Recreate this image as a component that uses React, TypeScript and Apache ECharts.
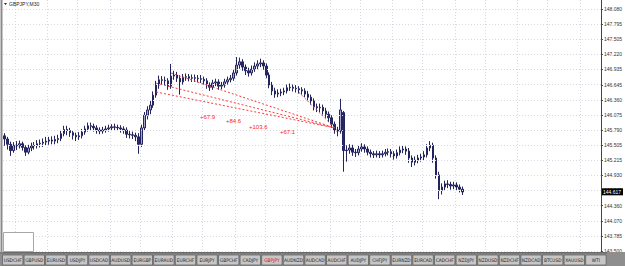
import React, { useEffect, useRef } from "react";
import * as echarts from "echarts";

// price axis labels (right side)
const yTickLabels = ["148.080","147.795","147.505","147.220","146.935","146.645","146.360","146.075","145.790","145.505","145.215","144.930","144.645","144.360","144.070","143.785","143.500"];

// M30 bars: [open, close, low, high]
const bars: number[][] = [
  [145.68,145.62,145.49,145.73],[145.62,145.52,145.42,145.66],[145.52,145.40,145.30,145.57],[145.40,145.50,145.36,145.56],
  [145.50,145.49,145.41,145.58],[145.49,145.53,145.44,145.59],[145.53,145.46,145.40,145.57],[145.46,145.37,145.30,145.50],
  [145.37,145.45,145.33,145.51],[145.45,145.49,145.39,145.55],[145.49,145.50,145.42,145.56],[145.50,145.53,145.44,145.60],
  [145.53,145.54,145.46,145.61],[145.54,145.56,145.47,145.63],[145.56,145.58,145.49,145.66],[145.58,145.60,145.51,145.66],
  [145.60,145.58,145.52,145.67],[145.58,145.61,145.52,145.68],[145.61,145.63,145.54,145.70],[145.63,145.72,145.58,145.79],
  [145.72,145.80,145.67,145.87],[145.80,145.78,145.69,145.87],[145.78,145.74,145.66,145.83],[145.74,145.69,145.61,145.78],
  [145.69,145.66,145.58,145.74],[145.66,145.68,145.60,145.75],[145.68,145.75,145.63,145.81],[145.75,145.81,145.70,145.87],
  [145.81,145.87,145.76,145.93],[145.87,145.86,145.79,145.93],[145.86,145.83,145.76,145.91],[145.83,145.79,145.72,145.88],
  [145.79,145.77,145.71,145.84],[145.77,145.79,145.72,145.85],[145.79,145.81,145.74,145.87],[145.81,145.83,145.76,145.89],
  [145.83,145.85,145.78,145.90],[145.85,145.84,145.78,145.91],[145.84,145.83,145.77,145.89],[145.83,145.81,145.74,145.88],
  [145.81,145.79,145.72,145.86],[145.79,145.71,145.64,145.84],[145.71,145.70,145.63,145.77],[145.70,145.69,145.62,145.76],
  [145.69,145.66,145.58,145.74],[145.66,145.52,145.34,145.73],[145.52,145.83,145.47,145.89],[145.83,146.07,145.77,146.13],
  [146.07,146.17,145.99,146.24],[146.17,146.26,146.09,146.34],[146.26,146.45,146.21,146.52],[146.45,146.64,146.40,146.72],
  [146.64,146.74,146.57,146.82],[146.74,146.73,146.65,146.81],[146.73,146.72,146.64,146.80],[146.72,146.62,146.55,146.77],
  [146.62,146.81,146.57,147.04],[146.81,146.83,146.74,146.91],[146.83,146.77,146.70,146.89],[146.77,146.70,146.46,146.83],
  [146.70,146.79,146.65,146.85],[146.79,146.80,146.72,146.86],[146.80,146.77,146.71,146.85],[146.77,146.78,146.70,146.84],
  [146.78,146.77,146.70,146.84],[146.77,146.76,146.69,146.83],[146.76,146.75,146.68,146.83],[146.75,146.72,146.65,146.80],
  [146.72,146.64,146.57,146.77],[146.64,146.60,146.53,146.69],[146.60,146.68,146.55,146.74],[146.68,146.70,146.62,146.76],
  [146.70,146.62,146.55,146.75],[146.62,146.64,146.56,146.70],[146.64,146.70,146.59,146.76],[146.70,146.74,146.65,146.80],
  [146.74,146.77,146.69,146.83],[146.77,146.87,146.72,146.93],[146.87,147.02,146.82,147.17],[147.02,147.08,146.95,147.16],
  [147.08,146.98,146.91,147.13],[146.98,146.91,146.83,147.03],[146.91,146.87,146.80,146.97],[146.87,146.94,146.82,147.01],
  [146.94,147.00,146.89,147.07],[147.00,147.04,146.94,147.11],[147.04,147.06,146.98,147.14],[147.06,147.00,146.93,147.11],
  [147.00,146.83,146.77,147.05],[146.83,146.64,146.58,146.88],[146.64,146.53,146.45,146.70],[146.53,146.47,146.40,146.59],
  [146.47,146.49,146.41,146.56],[146.49,146.51,146.43,146.57],[146.51,146.53,146.45,146.59],[146.53,146.59,146.48,146.65],
  [146.59,146.60,146.53,146.67],[146.60,146.58,146.52,146.65],[146.58,146.57,146.50,146.64],[146.57,146.55,146.48,146.62],
  [146.55,146.53,146.46,146.60],[146.53,146.47,146.41,146.58],[146.47,146.41,146.35,146.53],[146.41,146.34,146.27,146.46],
  [146.34,146.23,146.16,146.39],[146.23,146.21,146.13,146.29],[146.21,146.22,146.13,146.29],[146.22,146.15,146.08,146.27],
  [146.15,146.09,146.02,146.21],[146.09,146.02,145.94,146.14],[146.02,145.90,145.83,146.07],[145.90,145.79,145.72,145.95],
  [145.79,145.77,145.67,145.85],[145.77,146.17,145.72,146.38],[146.12,145.40,145.00,146.15],[145.40,145.41,145.19,145.50],
  [145.41,145.45,145.34,145.52],[145.45,145.37,145.30,145.51],[145.37,145.36,145.28,145.43],[145.36,145.43,145.31,145.49],
  [145.43,145.47,145.38,145.54],[145.47,145.43,145.36,145.52],[145.43,145.37,145.31,145.48],[145.37,145.34,145.27,145.42],
  [145.34,145.32,145.26,145.39],[145.32,145.34,145.27,145.40],[145.34,145.32,145.26,145.39],[145.32,145.34,145.27,145.40],
  [145.34,145.37,145.29,145.43],[145.37,145.38,145.31,145.44],[145.38,145.34,145.27,145.43],[145.34,145.30,145.23,145.39],
  [145.30,145.36,145.25,145.42],[145.36,145.41,145.31,145.48],[145.41,145.43,145.35,145.50],[145.43,145.39,145.32,145.48],
  [145.39,145.26,145.17,145.45],[145.26,145.18,145.09,145.31],[145.18,145.22,145.12,145.29],[145.22,145.26,145.16,145.32],
  [145.26,145.28,145.19,145.34],[145.28,145.32,145.22,145.39],[145.32,145.45,145.27,145.52],[145.45,145.50,145.39,145.58],
  [145.50,145.26,145.17,145.55],[145.26,144.94,144.87,145.31],[144.94,144.65,144.48,145.00],[144.65,144.71,144.57,144.78],
  [144.71,144.77,144.65,144.83],[144.77,144.76,144.69,144.84],[144.76,144.73,144.66,144.81],[144.73,144.75,144.67,144.81],
  [144.75,144.71,144.64,144.80],[144.71,144.67,144.61,144.76],[144.67,144.617,144.56,144.72]
];

// closed short trades (open -> close) with profit in points
const tradeOpenIdx = [51, 51, 56, 99];
const tradeOpenPrice = [146.509, 146.676, 146.866, 146.501];
const tradeCloseIdx = 111;
const tradeClosePrice = 145.83;
const tradeProfit = ["+67.9", "+84.6", "+103.6", "+67.1"];

const symbolTabs = ["USDCHF","GBPUSD","EURUSD","USDJPY","USDCAD","AUDUSD","EURGBP","EURAUD","EURCHF","EURJPY","GBPCHF","CADJPY","GBPJPY","AUDNZD","AUDCAD","AUDCHF","AUDJPY","CHFJPY","EURNZD","EURCAD","CADCHF","NZDJPY","NZDUSD","NZDCHF","NZDCAD","BTCUSD","XAUUSD","WTI"];
const activeTab = "GBPJPY";
const chartTitle = "GBPJPY,M30";

const TOTAL_SLOTS = 201;
const gridCats = [4, 15, 25, 36, 46, 57, 67, 78, 88, 99, 110, 120, 131, 141, 152, 162, 173, 183, 194];
const FONT = "Liberation Sans, Arial, sans-serif";
const NARROW = "Liberation Sans Narrow, DejaVu Sans Condensed, Liberation Sans, sans-serif";

export default function App() {
  const ref = useRef<HTMLDivElement>(null);
  useEffect(() => {
    if (!ref.current) return;
    const chart = echarts.init(ref.current, null, { renderer: "svg" });
    const yTicks = yTickLabels.map(Number);
    const lastClose = bars[bars.length - 1][1];
    const cats = Array.from({ length: TOTAL_SLOTS }, (_, i) => String(i));

    const tradeSeries = tradeOpenIdx.map((idx, k) => ({
      type: "line",
      data: [[idx, tradeOpenPrice[k]], [tradeCloseIdx, tradeClosePrice]],
      symbol: "rect",
      symbolSize: 3,
      showSymbol: true,
      itemStyle: { color: "#e00000" },
      lineStyle: { color: "#ff3b3b", width: 1, type: [2, 2] },
      z: 5,
      silent: true,
    }));

    const profitPos = [[200, 117], [226, 121], [249, 127], [280, 132]];
    const tabW = 21.6;
    const tabGraphics: any[] = [];
    symbolTabs.forEach((name, i) => {
      const x = 2.5 + i * tabW;
      tabGraphics.push({
        type: "rect",
        shape: { x, y: 255, width: tabW - 1.2, height: 10 },
        style: { fill: "#c6c6c6", stroke: "#5a5a5a", lineWidth: 0.7 },
        z: 10,
      });
      tabGraphics.push({
        type: "text",
        x: x + (tabW - 1.2) / 2,
        y: 260,
        style: {
          text: name,
          fill: name === activeTab ? "#e00000" : "#222",
          fontSize: 4.8,
          fontFamily: NARROW,
          align: "center",
          verticalAlign: "middle",
        },
        z: 11,
      });
    });

    chart.setOption({
      animation: false,
      backgroundColor: "#ffffff",
      grid: { left: 3, right: 19, top: 0, bottom: 15, containLabel: false },
      xAxis: {
        type: "category",
        data: cats,
        boundaryGap: true,
        axisLine: { show: false },
        axisTick: { show: false },
        axisLabel: { show: false },
        splitLine: {
          show: true,
          interval: (i: number) => gridCats.includes(i),
          lineStyle: { color: "#d6d9e3", type: [1, 2], width: 1 },
        },
      },
      yAxis: {
        type: "value",
        position: "right",
        min: 143.5,
        max: 148.2503,
        scale: true,
        axisLine: { show: true, lineStyle: { color: "#444", width: 1 } },
        axisTick: { show: true, customValues: yTicks, length: 2, lineStyle: { color: "#444" } },
        axisLabel: {
          customValues: yTicks,
          formatter: (v: number) => v.toFixed(3),
          fontSize: 5,
          color: "#333",
          margin: 3,
          fontFamily: FONT,
        },
        splitLine: { show: false },
      },
      series: [
        {
          type: "candlestick",
          data: bars,
          barWidth: 2,
          itemStyle: {
            color: "#a7a7cc",
            color0: "#2a2a68",
            borderColor: "#23235e",
            borderColor0: "#23235e",
            borderWidth: 1,
          },
          markLine: {
            silent: true,
            symbol: ["none", "none"],
            animation: false,
            data: [
              ...yTicks.map((v) => ({
                yAxis: v,
                lineStyle: { color: "#d6d9e3", type: [1, 2], width: 1 },
                label: { show: false },
              })),
              {
                yAxis: lastClose,
                lineStyle: { color: "rgba(0,0,0,0)", width: 0 },
                label: {
                  show: true,
                  position: "end",
                  distance: 1,
                  formatter: () => lastClose.toFixed(3),
                  backgroundColor: "#000",
                  color: "#fff",
                  fontSize: 5,
                  fontFamily: FONT,
                  padding: [1, 2, 1, 1],
                },
              },
            ],
          },
        },
        ...tradeSeries,
      ],
      graphic: [
        { type: "rect", shape: { x: 0.5, y: 0, width: 2, height: 253 }, style: { fill: "#8a8a8a" }, z: 10 },
        { type: "rect", shape: { x: 3.5, y: 232.5, width: 30, height: 19 }, style: { fill: "#ffffff", stroke: "#a8a8a8", lineWidth: 1 }, z: 9 },
        { type: "polygon", shape: { points: [[4, 3], [7, 3], [5.5, 5]] }, style: { fill: "#222" }, z: 10 },
        { type: "text", x: 9, y: 4, style: { text: chartTitle, fontSize: 5, fill: "#222", fontFamily: FONT, verticalAlign: "middle" }, z: 10 },
        ...tradeProfit.map((t, k) => ({
          type: "text",
          x: profitPos[k][0],
          y: profitPos[k][1],
          style: { text: t, fontSize: 6, fill: "#ff2020", fontFamily: FONT, verticalAlign: "middle" },
          z: 10,
        })),
        { type: "rect", shape: { x: 0, y: 252, width: 625, height: 14 }, style: { fill: "#8e8e8e" }, z: 8 },
        { type: "rect", shape: { x: 0, y: 252, width: 607, height: 1.5 }, style: { fill: "#6a6a6a" }, z: 9 },
        ...tabGraphics,
      ],
    });
    return () => chart.dispose();
  }, []);
  return <div ref={ref} style={{ position: "fixed", left: 0, top: 0, width: 625, height: 266 }} />;
}
